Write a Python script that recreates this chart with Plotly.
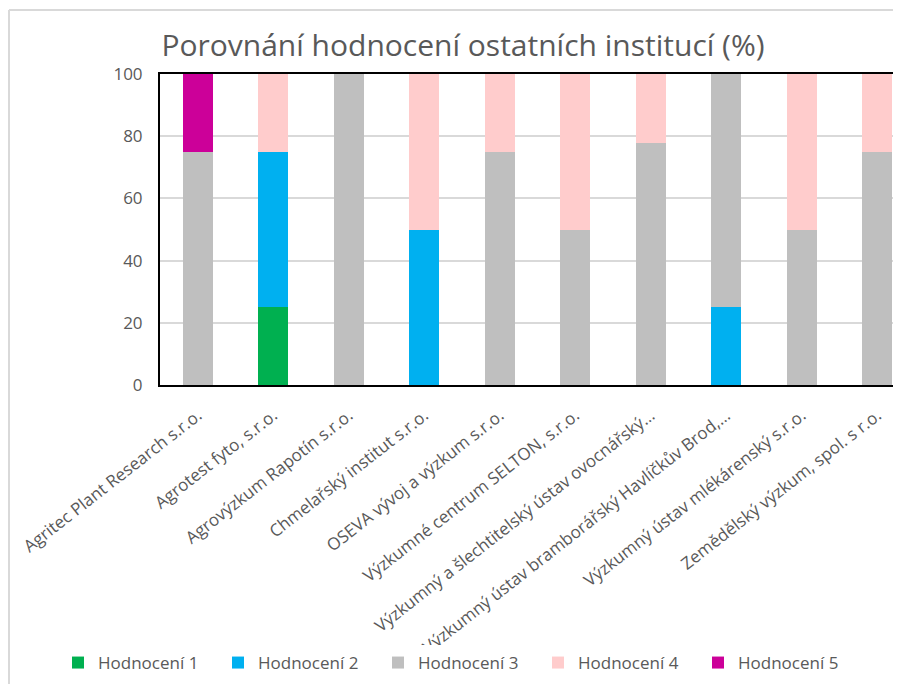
import plotly.graph_objects as go

categories = [
    "Agritec Plant Research s.r.o.",
    "Agrotest fyto, s.r.o.",
    "Agrovýzkum Rapotín s.r.o.",
    "Chmelařský institut s.r.o.",
    "OSEVA vývoj a výzkum s.r.o.",
    "Výzkumné centrum SELTON, s.r.o.",
    "Výzkumný a šlechtitelský ústav ovocnářský…",
    "Výzkumný ústav bramborářský Havlíčkův Brod,…",
    "Výzkumný ústav mlékárenský s.r.o.",
    "Zemědělský výzkum, spol. s r.o.",
]
hodnoceni_1 = [0, 25, 0, 0, 0, 0, 0, 0, 0, 0]
hodnoceni_2 = [0, 50, 0, 50, 0, 0, 0, 25, 0, 0]
hodnoceni_3 = [75, 0, 100, 0, 75, 50, 77.8, 75, 50, 75]
hodnoceni_4 = [0, 25, 0, 50, 25, 50, 22.2, 0, 50, 25]
hodnoceni_5 = [25, 0, 0, 0, 0, 0, 0, 0, 0, 0]
series_names = ["Hodnocení 1", "Hodnocení 2", "Hodnocení 3", "Hodnocení 4", "Hodnocení 5"]
series_values = [hodnoceni_1, hodnoceni_2, hodnoceni_3, hodnoceni_4, hodnoceni_5]
colors = ["#00B050", "#00B0F0", "#BFBFBF", "#FFCCCC", "#CC0099"]
y_ticks = [0, 20, 40, 60, 80, 100]

OFF = 8  # page body margin
W, H = 901 - OFF, 684 - OFF
L, R, T = 160 - OFF, 0, 74 - OFF
B = H - (385 - OFF)
pw, ph = W - L - R, H - T - B
step = 75.5  # px per category
x_max = -0.5 + pw / step

fig = go.Figure()
for name, vals, c in zip(series_names, series_values, colors):
    fig.add_trace(go.Bar(x=list(range(len(categories))), y=vals, name=name,
                         marker=dict(color=c, line=dict(width=0))))

def px_x(p):
    return (p - OFF - L) / pw

def px_y(p):
    return (H - B - (p - OFF)) / ph

fig.update_layout(
    width=W, height=H,
    margin=dict(l=L, r=R, t=T, b=B, autoexpand=False),
    barmode="stack", bargap=0.6,
    paper_bgcolor="white", plot_bgcolor="white",
    font=dict(family="Open Sans", color="#595959", size=17),
    title=dict(text="Porovnání hodnocení ostatních institucí (%)",
               x=(463 - OFF) / W, xref="container", xanchor="center",
               y=1 - (45 - OFF) / H, yref="container", yanchor="middle",
               font=dict(family="Open Sans", size=30, color="#595959")),
    legend=dict(orientation="h", xref="paper", x=px_x(58), xanchor="left",
                yref="paper", y=px_y(663), yanchor="middle",
                font=dict(size=17, color="#595959"), traceorder="normal",
                itemwidth=30, entrywidth=115, entrywidthmode="pixels"),
    showlegend=True,
)
fig.update_xaxes(
    tickmode="array", tickvals=list(range(len(categories))), ticktext=categories,
    range=[-0.5, x_max], tickangle=-38, showgrid=False, automargin=False,
    showline=True, linecolor="black", linewidth=2, mirror=True,
    ticks="", ticklabelstandoff=12, tickfont=dict(size=17, color="#595959"),
)
fig.update_yaxes(
    range=[0, 100], tickvals=y_ticks, showgrid=True, gridcolor="#D9D9D9", gridwidth=1.5,
    showline=True, linecolor="black", linewidth=2, mirror=True, ticks="", automargin=False,
    ticklabelstandoff=12, tickfont=dict(size=17, color="#595959"), zeroline=False,
)
# outer chart border (left and top edges visible)
fig.add_shape(type="line", xref="paper", yref="paper",
              x0=px_x(9), x1=px_x(9), y0=px_y(10), y1=px_y(700),
              line=dict(color="#D9D9D9", width=2))
fig.add_shape(type="line", xref="paper", yref="paper",
              x0=px_x(9), x1=px_x(920), y0=px_y(10), y1=px_y(10),
              line=dict(color="#D9D9D9", width=2))

fig.write_html("out.html")
